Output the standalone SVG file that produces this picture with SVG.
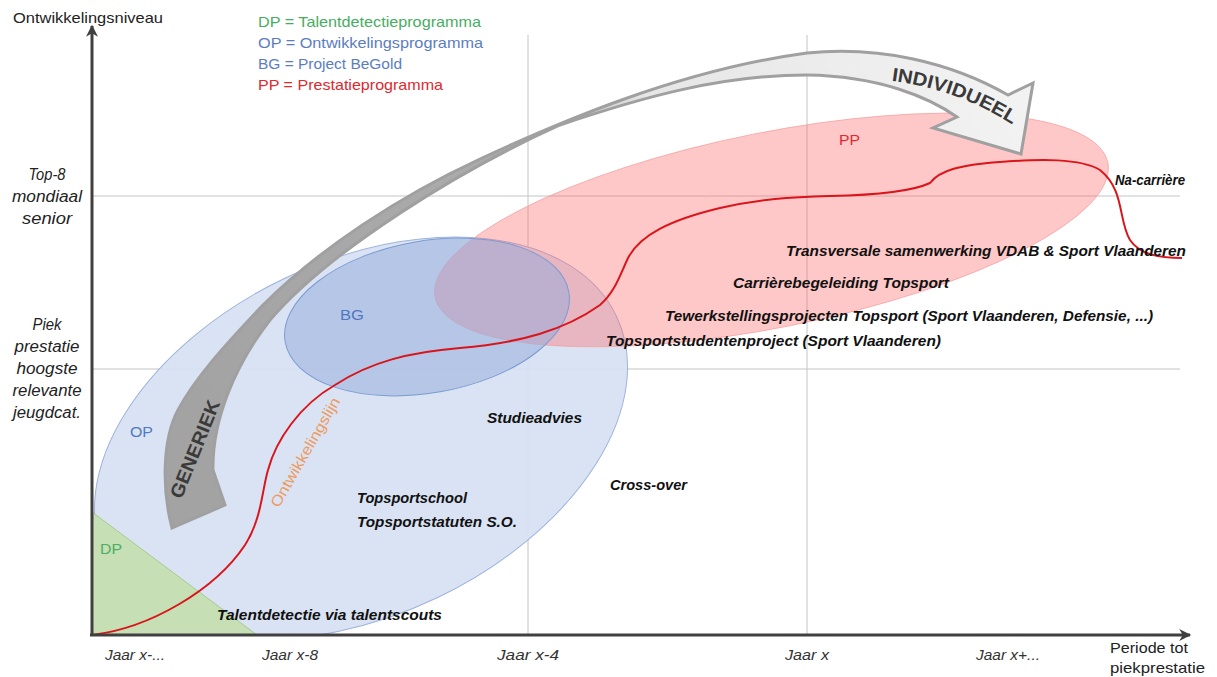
<svg xmlns="http://www.w3.org/2000/svg" width="1217" height="677" viewBox="0 0 1217 677">
<style>
.grid{stroke:#c4c4c4;stroke-width:1;fill:none}
.axis{stroke:#404040;stroke-width:3;fill:none}
.lbl{font-family:"Liberation Sans",Arial,sans-serif;font-size:15px;font-style:italic;font-weight:bold;fill:#111}
.ax{font-family:"Liberation Sans",Arial,sans-serif;font-size:15px;font-style:italic;fill:#333}
.ylab{font-family:"Liberation Sans",Arial,sans-serif;font-size:16px;font-style:italic;fill:#222;text-anchor:middle}
.reg{font-family:"Liberation Sans",Arial,sans-serif;font-size:15px;fill:#222}
.leg{font-family:"Liberation Sans",Arial,sans-serif;font-size:15px}
.big{font-family:"Liberation Sans",Arial,sans-serif;font-size:19px;font-weight:bold;fill:#3a3a3a}
</style>
<defs>
<marker id="ah" viewBox="0 0 10 10" refX="9" refY="5" markerWidth="13" markerHeight="12" markerUnits="userSpaceOnUse" orient="auto">
<path d="M0,0 L10,5 L0,10 L3,5 z" fill="#404040"/>
</marker>
<clipPath id="plot"><rect x="92" y="0" width="1125" height="635"/></clipPath>
<linearGradient id="bandg" gradientUnits="userSpaceOnUse" x1="200" y1="420" x2="1000" y2="80">
<stop offset="0" stop-color="#a3a3a3"/>
<stop offset="0.45" stop-color="#acacac"/>
<stop offset="0.62" stop-color="#e6e6e6"/>
<stop offset="1" stop-color="#f2f2f2"/>
</linearGradient>
</defs>
<rect width="1217" height="677" fill="#fff"/>
<g id="grid">
<line class="grid" x1="92" y1="196" x2="1180" y2="196"/>
<line class="grid" x1="92" y1="369" x2="1180" y2="369"/>
<line class="grid" x1="528" y1="35" x2="528" y2="635"/>
<line class="grid" x1="807" y1="35" x2="807" y2="635"/>
</g>
<g clip-path="url(#plot)">
<g id="op"><ellipse cx="361" cy="438" rx="283" ry="177" transform="rotate(-25.5 361 438)" fill="#d7e1f2" fill-opacity="0.92" stroke="#9db3dc" stroke-width="1"/></g>
<g id="pp"><ellipse cx="771.5" cy="230" rx="343" ry="97.5" transform="rotate(-11.3 771.5 230)" fill="#ff6e6e" fill-opacity="0.38" stroke="#f3a4a4" stroke-width="0.8"/></g>
<g id="bg"><ellipse cx="427" cy="317" rx="144" ry="76" transform="rotate(-10 427 317)" fill="#8faadc" fill-opacity="0.5" stroke="#7b9bd3" stroke-width="1"/></g>
<g id="dp"><polygon points="92,512 92,635 257,635" fill="#c6dfb4" stroke="#9cc584" stroke-width="0.8"/></g>
</g>
<g id="connectors">
<path id="ontwikkelingslijn" d="M92,635 C150,628 215,590 245,545 C262,518 262,490 268,470 C276,440 300,405 335,385 C370,362 410,352 460,348 C520,343 565,330 600,305 C615,292 620,275 628,258 C640,235 670,220 720,208 C760,199 790,197 830,196 C880,195 915,190 930,183 C940,170 960,165 1000,162 C1040,159 1080,158 1100,170 C1125,190 1118,220 1130,240 C1140,255 1160,258 1182,258" fill="none" stroke="#d9151b" stroke-width="2"/>
</g>
<g id="arrow">
<path d="M172,528 C162,490 162,440 178,410 C195,378 225,345 262,306 C320,248 400,196 480,159 C560,122 680,70 807,53 C880,46 950,62 1008,95 L1033,83 L1021,154 L933,128 L957,117 C930,98 880,76 807,75 C720,75 640,98 560,125 C460,170 330,250 270,320 C235,365 212,420 213,470 L225,505 Z" fill="url(#bandg)" stroke="#a0a0a0" stroke-width="3" stroke-linejoin="miter"/>
<path id="indpath" d="M885,80 C935,86 975,100 1018,128" fill="none"/>
<text class="big"><textPath href="#indpath" startOffset="50%" text-anchor="middle" textLength="130" lengthAdjust="spacingAndGlyphs">INDIVIDUEEL</textPath></text>
<text class="big" x="195" y="449" text-anchor="middle" dominant-baseline="central" transform="rotate(-68 195 449)" textLength="104" lengthAdjust="spacingAndGlyphs">GENERIEK</text>
</g>
<g id="labels">
<text class="leg" x="258" y="27" fill="#47ad62" textLength="223" lengthAdjust="spacingAndGlyphs">DP = Talentdetectieprogramma</text>
<text class="leg" x="258" y="48" fill="#5b7dbf" textLength="225" lengthAdjust="spacingAndGlyphs">OP = Ontwikkelingsprogramma</text>
<text class="leg" x="258" y="69" fill="#5b7dbf" textLength="144" lengthAdjust="spacingAndGlyphs">BG = Project BeGold</text>
<text class="leg" x="258" y="90" fill="#e0282e" textLength="185" lengthAdjust="spacingAndGlyphs">PP = Prestatieprogramma</text>
<text class="reg" x="13" y="23" textLength="150" lengthAdjust="spacingAndGlyphs">Ontwikkelingsniveau</text>
<text class="ylab" x="47" y="180" textLength="37" lengthAdjust="spacingAndGlyphs">Top-8</text>
<text class="ylab" x="47" y="202" textLength="70" lengthAdjust="spacingAndGlyphs">mondiaal</text>
<text class="ylab" x="47" y="224" textLength="50" lengthAdjust="spacingAndGlyphs">senior</text>
<text class="ylab" x="47" y="330" textLength="29" lengthAdjust="spacingAndGlyphs">Piek</text>
<text class="ylab" x="47" y="352" textLength="65" lengthAdjust="spacingAndGlyphs">prestatie</text>
<text class="ylab" x="47" y="374" textLength="61" lengthAdjust="spacingAndGlyphs">hoogste</text>
<text class="ylab" x="47" y="396" textLength="69" lengthAdjust="spacingAndGlyphs">relevante</text>
<text class="ylab" x="47" y="418" textLength="68" lengthAdjust="spacingAndGlyphs">jeugdcat.</text>
<text class="ax" x="105" y="660" textLength="60" lengthAdjust="spacingAndGlyphs">Jaar x-...</text>
<text class="ax" x="262" y="660" textLength="56" lengthAdjust="spacingAndGlyphs">Jaar x-8</text>
<text class="ax" x="497" y="660" textLength="62" lengthAdjust="spacingAndGlyphs">Jaar x-4</text>
<text class="ax" x="785" y="660" textLength="44" lengthAdjust="spacingAndGlyphs">Jaar x</text>
<text class="ax" x="976" y="660" textLength="64" lengthAdjust="spacingAndGlyphs">Jaar x+...</text>
<text class="reg" x="1110" y="653" textLength="78" lengthAdjust="spacingAndGlyphs">Periode tot</text>
<text class="reg" x="1110" y="673" textLength="95" lengthAdjust="spacingAndGlyphs">piekprestatie</text>
<text class="leg" x="100" y="554" fill="#4caf64" font-size="16" textLength="22" lengthAdjust="spacingAndGlyphs">DP</text>
<text class="leg" x="130" y="437" fill="#4f78c0" font-size="16" textLength="23" lengthAdjust="spacingAndGlyphs">OP</text>
<text class="leg" x="340" y="320" fill="#4f78c0" font-size="16" textLength="24" lengthAdjust="spacingAndGlyphs">BG</text>
<text class="leg" x="839" y="145" fill="#e0282e" font-size="16" textLength="21" lengthAdjust="spacingAndGlyphs">PP</text>
<text class="leg" x="305" y="452" fill="#ee9a5e" text-anchor="middle" dominant-baseline="central" transform="rotate(-60 305 452)" textLength="124" lengthAdjust="spacingAndGlyphs">Ontwikkelingslijn</text>
<text class="lbl" x="487" y="423" textLength="95" lengthAdjust="spacingAndGlyphs">Studieadvies</text>
<text class="lbl" x="610" y="490" textLength="77" lengthAdjust="spacingAndGlyphs">Cross-over</text>
<text class="lbl" x="357" y="503" textLength="110" lengthAdjust="spacingAndGlyphs">Topsportschool</text>
<text class="lbl" x="357" y="527" textLength="160" lengthAdjust="spacingAndGlyphs">Topsportstatuten S.O.</text>
<text class="lbl" x="217" y="620" textLength="225" lengthAdjust="spacingAndGlyphs">Talentdetectie via talentscouts</text>
<text class="lbl" x="606" y="346" textLength="335" lengthAdjust="spacingAndGlyphs">Topsportstudentenproject (Sport Vlaanderen)</text>
<text class="lbl" x="665" y="321" textLength="488" lengthAdjust="spacingAndGlyphs">Tewerkstellingsprojecten Topsport (Sport Vlaanderen, Defensie, ...)</text>
<text class="lbl" x="733" y="288" textLength="216" lengthAdjust="spacingAndGlyphs">Carrièrebegeleiding Topsport</text>
<text class="lbl" x="786" y="256" textLength="400" lengthAdjust="spacingAndGlyphs">Transversale samenwerking VDAB &amp; Sport Vlaanderen</text>
<text class="lbl" x="1115" y="185" textLength="70" lengthAdjust="spacingAndGlyphs">Na-carrière</text>
</g>
<g id="axes">
<line class="axis" x1="92" y1="636" x2="92" y2="26" marker-end="url(#ah)"/>
<line class="axis" x1="90" y1="635" x2="1190" y2="635" marker-end="url(#ah)"/>
</g>
</svg>
